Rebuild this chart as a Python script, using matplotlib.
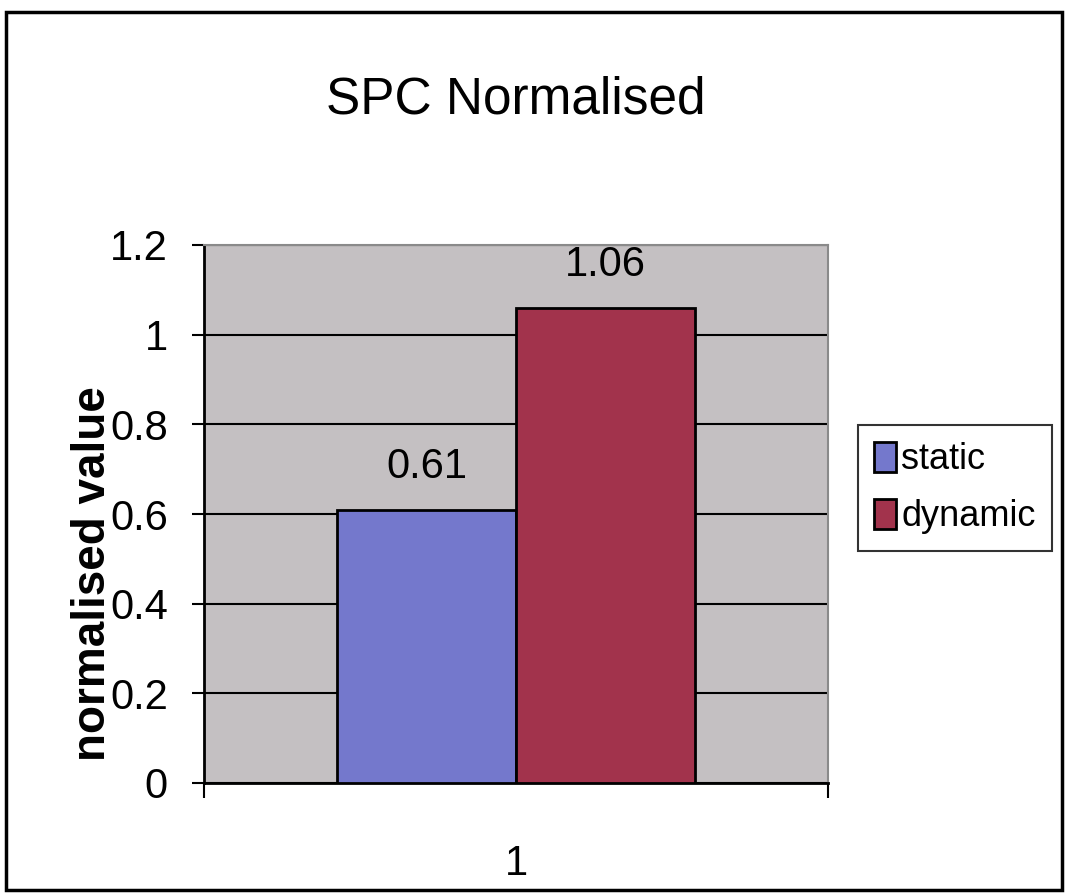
import matplotlib
matplotlib.use("Agg")
from matplotlib import pyplot as plt
from matplotlib.patches import Rectangle

plt.rcParams['font.family'] = ['Liberation Sans', 'DejaVu Sans']

categories = ["1"]
series_names = ["static", "dynamic"]
static_vals = [0.61]
dynamic_vals = [1.06]
yticks = [0, 0.2, 0.4, 0.6, 0.8, 1.0, 1.2]
ytick_labels = ["0", "0.2", "0.4", "0.6", "0.8", "1", "1.2"]

colors = ["#7478cc", "#a2334c"]

fig = plt.figure(figsize=(10.72, 8.94), dpi=100)
ax = fig.add_axes([204/1072, 1-783/894, 624/1072, 538/894])
ax.set_facecolor("#c4c0c2")

x = [1]
w = 0.287
b1 = ax.bar([v - w/2 for v in x], static_vals, w, color=colors[0],
            edgecolor="black", linewidth=2, label=series_names[0], zorder=3)
b2 = ax.bar([v + w/2 for v in x], dynamic_vals, w, color=colors[1],
            edgecolor="black", linewidth=2, label=series_names[1], zorder=3)

for bars, vals in [(b1, static_vals), (b2, dynamic_vals)]:
    for r, v in zip(bars, vals):
        ax.text(r.get_x() + r.get_width()/2, v + 0.05, "%.2f" % v,
                ha="center", va="bottom", fontsize=30)

ax.set_xlim(0.5, 1.5)
ax.set_ylim(0, 1.2)
ax.set_yticks(yticks)
ax.set_yticklabels(ytick_labels, fontsize=30)
ax.set_xticks(x)
ax.set_xticklabels(categories, fontsize=30)
ax.set_xticks([0.5, 1.5], minor=True)
ax.tick_params(axis="x", which="major", length=0, pad=44)
ax.tick_params(axis="x", which="minor", length=11, width=1.5, direction="out")
ax.tick_params(axis="y", length=9, width=1.5, direction="out", pad=17)

ax.yaxis.grid(True, color="black", linewidth=1.5, zorder=1)
ax.set_axisbelow(True)
for s in ["top", "right"]:
    ax.spines[s].set_color("#8a8a8a")
    ax.spines[s].set_linewidth(1.5)
for s in ["left", "bottom"]:
    ax.spines[s].set_linewidth(2)

ax.set_ylabel("normalised value", fontsize=33, fontweight="bold")
ax.yaxis.set_label_coords(-0.142, 0.39)

ax.set_title("SPC Normalised", fontsize=37, pad=95)

leg = ax.legend(loc="center left", bbox_to_anchor=(858/1072, 1-488/894),
                bbox_transform=fig.transFigure, fontsize=26, frameon=True,
                fancybox=False, edgecolor="black", handlelength=0.6,
                handleheight=0.9, handletextpad=0.15, borderpad=0.45,
                labelspacing=0.6, borderaxespad=0)
leg.get_frame().set_linewidth(1.5)

fig.patches.append(Rectangle((6/1072, 1-890/894), 1056/1072, 878/894,
                             transform=fig.transFigure, fill=False,
                             edgecolor="black", linewidth=2.5))

fig.savefig("out.png", dpi=100)
